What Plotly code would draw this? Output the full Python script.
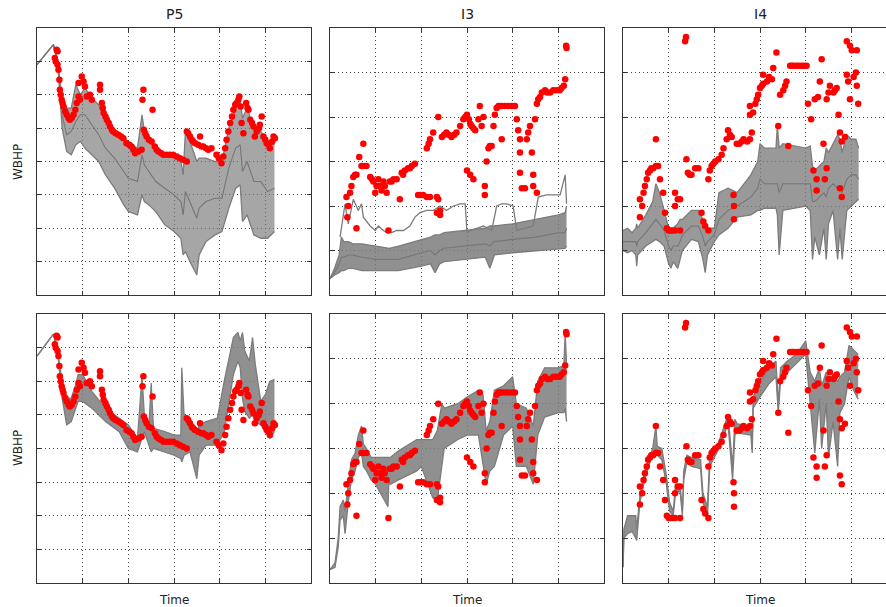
import plotly.graph_objects as go

# ---------------- observations (red dots), shared by prior/posterior rows ----------------
p5_obs_t = [0.43,0.45,0.39,0.41,0.45,0.47,0.49,0.5,0.52,0.54,0.56,0.58,0.62,0.65,0.69,0.72,0.76,0.8,0.84,0.87,0.91,0.94,0.91,0.98,1.02,1.05,1.09,1.16,1.2,1.38,1.38,1.42,1.44,1.46,1.5,1.53,1.57,1.6,1.64,1.67,1.72,1.78,1.84,1.89,1.96,2.02,2.07,2.11,2.15,2.22,2.29,2.33,2.31,2.53,2.34,2.37,2.4,2.45,2.51,2.58,2.62,2.66,2.72,2.77,2.84,2.91,2.98,3.06,3.13,3.2,3.28,3.28,3.31,3.35,3.39,3.42,3.46,3.57,3.53,3.6,3.64,3.7,3.75,3.82,3.93,3.98,4.04,4.08,4.12,4.15,4.19,4.23,4.27,4.3,4.34,4.37,4.41,4.43,4.46,4.48,4.52,4.58,4.61,4.63,4.67,4.71,4.74,4.77,4.81,4.86,4.88,4.92,4.96,5.0,5.03,5.07,5.1,5.15,5.18,5.21]
p5_obs_y = [7.35,7.3,7.1,7.0,6.9,6.75,6.45,6.15,6.0,5.85,5.75,5.65,5.5,5.4,5.3,5.25,5.3,5.4,5.55,5.75,5.95,5.85,6.35,6.55,6.4,6.25,5.95,6.0,5.85,6.3,6.15,5.75,5.6,5.45,5.35,5.25,5.15,5.05,4.95,4.9,4.85,4.8,4.75,4.7,4.55,4.5,4.45,4.35,4.25,4.3,4.35,6.15,5.85,5.55,4.95,4.85,4.75,4.65,4.6,4.45,4.35,4.3,4.25,4.2,4.2,4.2,4.2,4.15,4.1,4.05,4.0,4.9,4.85,4.75,4.65,4.6,4.55,4.75,4.5,4.45,4.45,4.4,4.35,4.4,4.2,4.1,3.95,4.15,4.4,4.65,4.9,5.15,5.35,5.55,5.7,5.75,5.85,5.95,5.65,5.15,4.85,5.75,5.6,5.55,5.25,5.15,5.05,4.75,4.9,5.0,5.1,5.35,4.75,4.65,4.55,4.5,4.4,4.6,4.75,4.7]

i3_obs_t = [0.36,0.4,0.38,0.44,0.47,0.51,0.55,0.58,0.64,0.69,0.73,0.8,0.73,0.58,0.88,0.92,0.95,0.99,1.02,1.06,1.09,1.13,1.17,1.2,1.24,1.31,1.35,1.39,1.46,1.53,1.57,1.6,1.64,1.71,1.75,1.79,1.86,1.28,1.93,1.98,2.04,2.12,2.19,2.34,2.37,2.41,2.41,2.34,2.12,2.16,2.19,2.26,2.37,2.45,2.5,2.55,2.6,2.66,2.72,2.77,2.85,2.92,2.96,3.0,3.04,3.07,3.1,3.14,3.18,3.25,3.28,3.36,3.32,3.0,3.07,3.14,3.39,3.39,3.43,3.47,3.5,3.54,3.58,3.61,3.65,3.69,3.76,3.72,3.76,3.83,3.9,3.98,4.05,4.09,4.12,4.16,4.16,4.16,4.2,4.27,4.31,4.34,4.38,4.42,4.45,4.45,4.53,4.49,4.53,4.56,4.6,4.64,4.71,4.76,4.82,4.89,4.96,5.03,5.07,5.12,5.15,5.18,5.17]
i3_obs_y = [2.2,2.0,1.75,2.3,2.45,2.65,2.7,2.7,3.1,2.9,2.9,2.9,3.4,1.5,2.65,2.6,2.55,2.3,2.45,2.6,2.45,2.35,2.55,2.45,2.3,2.55,2.55,2.6,2.6,2.15,2.75,2.7,2.8,2.85,2.85,2.9,2.95,1.45,2.25,2.25,2.25,2.2,2.2,2.2,2.15,1.9,1.8,1.85,3.3,3.4,3.5,3.65,4.0,3.55,3.6,3.65,3.6,3.55,3.6,3.65,3.8,3.95,4.0,4.05,3.95,3.85,3.8,3.75,3.7,3.95,4.25,4.0,3.8,2.8,2.7,2.6,2.45,2.25,3.0,3.3,3.35,3.35,3.8,4.05,4.2,4.25,3.5,4.25,4.25,4.25,4.25,4.25,4.25,3.95,3.7,3.5,3.2,2.75,2.4,2.4,3.5,3.65,3.8,3.2,2.7,2.45,2.3,3.95,4.3,4.4,4.45,4.55,4.6,4.55,4.55,4.6,4.6,4.6,4.65,4.7,4.85,5.55,5.6]

i4_obs_t = [0.37,0.42,0.37,0.45,0.48,0.52,0.55,0.59,0.62,0.66,0.72,0.77,0.72,0.81,0.88,0.92,0.96,1.0,1.03,1.08,1.14,1.25,1.14,1.14,1.2,1.25,1.36,1.38,1.39,1.42,1.46,1.5,1.58,1.65,1.72,1.76,1.8,1.87,1.87,1.9,1.94,1.98,2.02,2.09,2.16,2.2,2.27,2.3,2.34,2.38,2.42,2.43,2.43,2.49,2.55,2.6,2.64,2.72,2.78,2.82,2.78,2.85,2.78,2.9,2.93,2.96,3.0,3.04,3.07,3.15,3.07,3.2,3.26,3.29,3.36,3.4,3.44,3.51,3.55,3.58,3.62,3.66,3.7,3.74,3.8,3.85,3.91,3.96,4.02,4.05,4.12,4.17,4.24,4.24,4.2,4.27,4.31,4.35,4.39,4.42,4.46,4.46,4.5,4.53,4.61,4.64,4.68,4.72,4.75,4.75,4.79,4.79,4.86,4.9,4.93,4.9,4.97,5.01,5.12,5.12,5.15,4.97,5.05,5.1]
i4_obs_y = [1.75,2.0,2.15,2.3,2.45,2.6,2.75,2.8,2.85,2.85,2.9,2.9,3.5,2.6,2.3,1.85,1.5,1.45,1.45,1.45,1.45,1.45,2.3,2.0,2.15,2.15,5.7,5.8,3.05,2.75,2.7,2.7,2.85,2.85,1.85,1.65,1.55,1.45,2.6,2.8,2.9,2.95,3.0,3.05,3.15,3.3,3.5,3.7,3.6,3.55,2.25,2.0,1.7,3.4,3.4,3.45,3.5,3.45,3.5,3.65,4.05,4.1,4.25,4.3,4.4,4.5,4.65,4.7,4.75,4.8,4.95,4.9,4.85,5.1,5.45,3.8,4.5,4.6,4.7,4.8,3.35,5.15,5.15,5.15,5.15,5.15,5.15,5.15,5.15,4.3,3.95,2.8,2.6,2.35,4.4,4.45,4.8,5.3,3.4,2.6,2.85,4.4,4.55,4.7,4.55,4.6,4.65,4.05,3.65,2.4,2.2,3.45,3.55,4.95,4.8,5.7,5.6,5.5,5.5,4.7,4.3,4.4,4.9,5.0]

# ---------------- ensemble envelopes: prior (top row) ----------------
p5_prior_t = [0,0.36,0.45,0.55,0.65,0.75,0.85,0.95,1.05,1.2,1.35,1.5,1.7,1.9,2.0,2.2,2.3,2.35,2.45,2.6,2.8,3.0,3.15,3.2,3.25,3.35,3.5,3.55,3.7,3.9,4.05,4.2,4.35,4.45,4.5,4.6,4.75,4.9,5.05,5.2]
p5_prior_hi = [6.9,7.5,7.0,5.9,5.6,5.6,6.3,6.0,6.2,5.9,5.7,5.2,4.9,4.7,4.6,4.4,5.4,4.9,4.6,4.4,4.2,4.1,4.0,3.6,4.9,4.6,4.0,4.1,4.1,4.0,4.0,5.0,5.6,5.8,5.3,5.6,5.0,4.9,4.6,4.5]
p5_prior_mid = [6.9,7.5,7.0,5.4,4.8,4.9,5.2,5.4,5.4,5.1,4.8,4.4,4.1,3.7,3.5,3.4,4.2,3.9,3.7,3.4,3.2,3.0,2.8,2.4,3.1,2.8,2.3,2.6,2.8,2.9,2.9,3.8,4.4,4.5,3.7,4.0,3.4,3.4,3.1,3.2]
p5_prior_lo = [6.9,7.5,7.0,5.0,4.3,4.2,4.5,4.6,4.4,4.2,4.0,3.6,3.2,2.7,2.5,2.4,3.0,2.8,2.7,2.5,2.1,1.9,1.7,1.2,1.3,1.0,0.6,1.2,1.6,1.8,1.9,2.6,3.2,3.3,2.2,2.4,1.8,1.7,1.7,1.9]

i3_prior_t = [0,0.1,0.2,0.25,0.3,0.4,0.5,0.7,1.0,1.3,1.5,2.0,2.2,2.3,2.4,2.5,3.0,3.4,3.5,3.6,4.0,4.5,5.0,5.15,5.18]
i3_prior_hi = [0.37,0.6,0.9,1.3,1.2,1.2,1.15,1.15,1.1,1.05,1.1,1.25,1.3,1.35,1.35,1.4,1.45,1.5,1.55,1.55,1.6,1.7,1.8,1.85,2.0]
i3_prior_mid = [0.37,0.5,0.7,0.85,0.85,0.9,0.9,0.85,0.8,0.8,0.8,0.95,1.0,0.9,1.0,1.05,1.1,1.15,1.1,1.2,1.25,1.3,1.4,1.4,1.5]
i3_prior_lo = [0.37,0.45,0.5,0.55,0.55,0.6,0.6,0.55,0.55,0.55,0.55,0.65,0.7,0.5,0.7,0.75,0.8,0.85,0.6,0.9,0.95,1.0,1.05,1.05,1.1]
i3_outlier_t = [0.22,0.33,0.4,0.51,0.62,0.69,0.73,0.88,0.99,1.06,1.17,1.24,1.35,1.46,1.61,1.75,1.86,1.97,2.12,2.26,2.41,2.55,2.7,2.85,2.96,3.0,3.07,3.36,3.54,3.65,3.76,3.87,4.01,4.09,4.45,4.56,4.74,4.89,5.04,5.15,5.18]
i3_outlier_y = [1.3,2.05,1.6,2.15,1.9,2.05,1.75,1.55,1.45,1.55,1.45,1.4,1.4,1.45,1.45,1.55,1.75,1.85,1.9,1.9,2.0,1.9,2.0,2.05,2.05,1.4,1.45,1.55,1.45,2.0,2.05,2.05,2.0,1.45,1.55,2.2,2.25,2.25,2.25,2.7,2.05]

i4_prior_t = [0,0.1,0.2,0.28,0.3,0.32,0.5,0.65,0.72,0.8,0.9,1.0,1.05,1.1,1.2,1.25,1.3,1.5,1.65,1.75,1.8,1.85,2.0,2.1,2.3,2.5,2.8,2.95,3.0,3.1,3.35,3.38,3.42,3.5,4.0,4.1,4.15,4.2,4.3,4.4,4.45,4.5,4.6,4.7,4.75,4.8,4.9,5.0,5.1,5.16]
i4_prior_hi = [1.45,1.5,1.4,1.5,1.6,1.5,1.8,2.1,2.5,2.3,1.9,1.5,1.4,1.5,1.6,1.7,1.7,1.9,1.9,1.7,1.6,1.5,1.5,2.3,2.4,2.3,2.7,3.0,3.4,3.3,3.3,3.8,3.3,3.4,3.3,3.35,2.9,2.8,2.9,3.0,3.3,3.2,3.4,3.6,3.5,3.2,3.6,3.5,3.5,3.3]
i4_prior_mid = [1.2,1.2,1.2,1.2,1.1,1.2,1.4,1.6,1.7,1.6,1.45,1.1,1.0,1.1,1.1,1.2,1.35,1.55,1.55,1.3,1.1,1.2,1.35,1.7,1.9,2.0,2.2,2.4,2.6,2.5,2.5,2.5,2.3,2.5,2.5,2.5,2.1,2.1,2.2,2.3,2.2,2.4,2.5,2.4,2.4,2.3,2.6,2.7,2.7,2.6]
i4_prior_lo = [1.0,0.95,1.0,0.9,0.65,0.9,1.1,1.2,1.25,1.2,1.1,0.7,0.6,0.75,0.6,0.8,1.0,1.25,1.2,0.8,0.5,0.9,1.2,1.35,1.5,1.75,1.8,1.9,1.9,1.95,1.95,1.8,0.9,1.9,2.0,1.9,0.8,1.3,0.9,1.5,0.8,1.6,1.9,0.8,1.5,0.8,1.9,2.0,2.1,2.15]

# ---------------- ensemble envelopes: posterior (bottom row) ----------------
p5_post_t = [0,0.36,0.45,0.55,0.65,0.75,0.85,0.9,1.0,1.2,1.5,1.8,2.0,2.2,2.3,2.35,2.45,2.5,2.55,2.8,3.0,3.15,3.17,3.22,3.35,3.5,3.55,3.7,3.95,4.1,4.2,4.3,4.4,4.45,4.5,4.55,4.65,4.72,4.78,4.9,5.0,5.1,5.2]
p5_post_hi = [6.75,7.4,6.9,6.0,5.5,5.5,5.9,6.2,6.2,5.7,5.2,4.9,4.7,4.3,6.15,5.0,4.6,5.95,4.6,4.5,4.4,4.4,6.4,5.0,4.9,4.4,4.7,4.8,4.9,6.0,6.6,7.3,7.45,7.2,7.45,6.9,6.6,7.3,6.5,5.4,5.6,6.0,6.05]
p5_post_lo = [6.75,7.4,6.9,5.5,4.7,4.8,5.2,5.4,5.4,5.2,4.8,4.5,4.0,3.9,4.3,4.5,4.1,3.9,4.0,3.9,3.8,3.7,3.6,3.8,3.9,3.1,3.8,4.1,4.1,4.5,5.3,6.2,6.6,6.4,5.5,5.1,4.9,5.0,4.8,4.7,4.5,4.3,4.5]

i3_post_t = [0,0.11,0.18,0.22,0.29,0.33,0.4,0.47,0.55,0.62,0.69,0.73,0.8,0.9,1.0,1.27,1.29,1.32,1.5,1.9,2.0,2.25,2.35,2.45,2.5,2.8,3.0,3.25,3.35,3.42,3.5,3.6,3.8,4.0,4.08,4.3,4.45,4.55,4.7,5.0,5.12,5.15,5.18]
i3_post_hi = [0.3,0.45,1.0,1.7,1.85,1.6,2.2,2.75,2.9,3.3,3.5,3.1,3.0,2.8,2.8,2.8,2.8,2.8,2.95,3.2,3.2,3.2,3.4,4.0,3.9,4.0,4.15,4.3,4.2,3.4,3.6,4.3,4.4,4.6,4.0,3.9,3.5,4.5,4.8,4.8,4.85,5.55,4.9]
i3_post_lo = [0.3,0.35,0.8,1.4,1.5,1.1,1.8,2.3,2.5,2.8,2.9,2.6,2.5,2.3,2.2,1.7,2.3,2.2,2.3,2.5,2.6,1.9,1.85,2.6,3.0,3.2,3.3,3.3,2.6,2.2,2.5,2.6,3.3,3.5,2.6,2.6,2.2,3.3,3.7,3.8,3.8,3.9,3.6]

i4_post_t = [0,0.02,0.1,0.2,0.28,0.3,0.37,0.5,0.65,0.72,0.75,0.85,0.95,1.02,1.1,1.15,1.25,1.3,1.33,1.4,1.5,1.7,1.75,1.85,1.9,2.1,2.3,2.4,2.45,2.5,2.8,2.83,2.85,3.0,3.2,3.35,3.4,3.45,3.6,3.8,4.0,4.1,4.2,4.3,4.35,4.45,4.5,4.6,4.7,4.75,4.85,4.95,5.05,5.15]
i4_post_hi = [0.35,1.2,1.5,1.5,1.5,1.2,1.95,2.6,3.0,3.5,3.05,3.0,2.4,1.8,1.6,2.2,2.2,1.6,2.5,2.85,2.8,2.75,2.0,1.7,2.85,3.15,3.75,2.6,3.65,3.55,3.5,3.0,4.15,4.5,4.8,4.95,4.0,4.8,4.95,5.1,5.4,4.7,4.5,4.8,4.4,4.7,4.6,4.6,4.5,4.6,4.7,5.3,5.2,5.1]
i4_post_lo = [0.35,1.0,1.1,1.15,1.0,0.95,1.8,2.4,2.9,3.0,2.85,2.75,2.2,1.6,1.5,2.0,2.05,1.5,2.3,2.7,2.6,2.55,1.8,1.5,2.6,3.0,3.55,2.3,3.3,3.35,3.3,2.9,3.9,4.15,4.45,4.6,3.8,4.5,4.7,4.9,5.1,4.0,2.9,4.1,3.0,4.0,2.8,3.6,2.6,3.8,4.0,4.6,4.3,4.1]

well_titles = ["P5", "I3", "I4"]
y_label = "WBHP"
x_label = "Time"

# ---------------- figure ----------------
W, H = 886, 607
GRAY = "#7c7c7c"
RED = "#ff0000"
FONT = "DejaVu Sans"

fig = go.Figure()

def band(idx, t, hi, lo, fill_alpha, mid=None):
    ax = dict(xaxis=f"x{idx}", yaxis=f"y{idx}", hoverinfo="skip", showlegend=False)
    fig.add_trace(go.Scatter(x=t, y=hi, mode="lines", line=dict(color=GRAY, width=1.3), **ax))
    fig.add_trace(go.Scatter(x=t, y=lo, mode="lines", fill="tonexty",
                             fillcolor=f"rgba(124,124,124,{fill_alpha})",
                             line=dict(color=GRAY, width=1.3), **ax))
    if mid is not None:
        fig.add_trace(go.Scatter(x=t, y=mid, mode="lines", line=dict(color="#767676", width=1.1), **ax))

def line(idx, t, y):
    fig.add_trace(go.Scatter(x=t, y=y, mode="lines", line=dict(color=GRAY, width=1.3),
                             xaxis=f"x{idx}", yaxis=f"y{idx}", hoverinfo="skip", showlegend=False))

def obs(idx, t, y):
    fig.add_trace(go.Scatter(x=t, y=y, mode="markers",
                             marker=dict(color=RED, size=6.5, line=dict(width=0)),
                             xaxis=f"x{idx}", yaxis=f"y{idx}", hoverinfo="skip", showlegend=False))

# prior row
band(1, p5_prior_t, p5_prior_hi, p5_prior_lo, 0.68, p5_prior_mid)
obs(1, p5_obs_t, p5_obs_y)
band(2, i3_prior_t, i3_prior_hi, i3_prior_lo, 0.85, i3_prior_mid)
line(2, i3_outlier_t, i3_outlier_y)
obs(2, i3_obs_t, i3_obs_y)
band(3, i4_prior_t, i4_prior_hi, i4_prior_lo, 0.78, i4_prior_mid)
obs(3, i4_obs_t, i4_obs_y)
# posterior row
band(4, p5_post_t, p5_post_hi, p5_post_lo, 0.85)
obs(4, p5_obs_t, p5_obs_y)
band(5, i3_post_t, i3_post_hi, i3_post_lo, 0.85)
obs(5, i3_obs_t, i3_obs_y)
band(6, i4_post_t, i4_post_hi, i4_post_lo, 0.85)
obs(6, i4_obs_t, i4_obs_y)

col_dom = [[37 / W, 311 / W], [330 / W, 604 / W], [623 / W, 1.0]]
row_dom = [[1 - 295 / H, 1 - 28 / H], [1 - 583 / H, 1 - 314 / H]]
unit_px = 274 / 6.0
x_ranges = [[0, 6], [0, 6], [0, (W - 623) / unit_px]]
y_tops = [8, 6, 6]

layout = dict(
    width=W, height=H, margin=dict(l=0, r=0, t=0, b=0),
    paper_bgcolor="white", plot_bgcolor="white",
    font=dict(family=FONT, color="#222222"),
    showlegend=False,
)
for r in range(2):
    for c in range(3):
        i = r * 3 + c + 1
        common = dict(showticklabels=False, ticks="inside", ticklen=4, tickcolor="#333333",
                      showline=True, linecolor="#333333", linewidth=1.3,
                      showgrid=True, gridcolor="#444444", griddash="1px,3px", gridwidth=1,
                      zeroline=False, fixedrange=True, dtick=1, tick0=0)
        layout[f"xaxis{i}"] = dict(domain=col_dom[c], range=x_ranges[c], anchor=f"y{i}",
                                   mirror="ticks", **common)
        layout[f"yaxis{i}"] = dict(domain=row_dom[r], range=[0, y_tops[c]], anchor=f"x{i}",
                                   mirror=("ticks" if c < 2 else False), **common)

ann = []
centers = [174, 467, 760]
for c, name in enumerate(well_titles):
    ann.append(dict(text=name, x=centers[c] / W, y=1 - 14 / H, xref="paper", yref="paper",
                    showarrow=False, xanchor="center", yanchor="middle", font=dict(size=14)))
    ann.append(dict(text=x_label, x=centers[c] / W, y=1 - 600 / H, xref="paper", yref="paper",
                    showarrow=False, xanchor="center", yanchor="middle", font=dict(size=12)))
for yc in [162, 448]:
    ann.append(dict(text=y_label, x=18 / W, y=1 - yc / H, xref="paper", yref="paper",
                    showarrow=False, xanchor="center", yanchor="middle", textangle=-90,
                    font=dict(size=12)))
layout["annotations"] = ann

fig.update_layout(**layout)
fig.write_html("out.html")
